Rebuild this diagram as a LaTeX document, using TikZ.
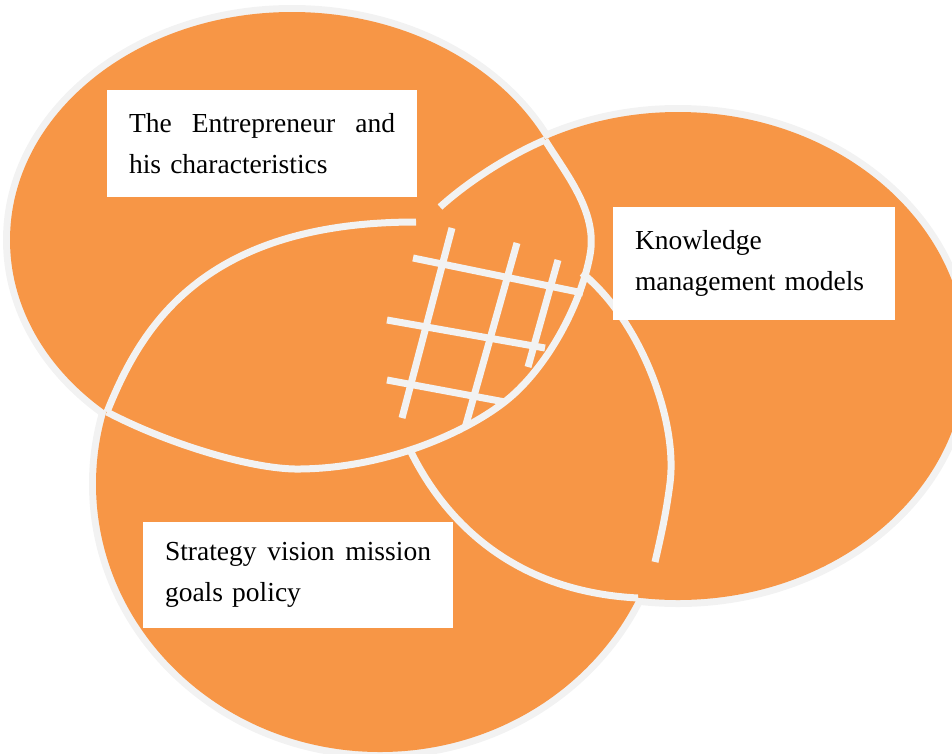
\documentclass[tikz,border=0pt]{standalone}
\usepackage{fontspec}
\setmainfont{Liberation Serif}
\definecolor{vennorange}{RGB}{247,150,70}
\definecolor{rimgray}{RGB}{242,242,242}

% the three circles
\def\entreshape{(292,240) ellipse [x radius=282, y radius=228]}
\def\stratshape{(380,484) ellipse [x radius=284, y radius=268]}
\def\knowshape{(678,356) ellipse [x radius=288, y radius=244]}

\tikzset{
  rim/.style={draw=rimgray, line width=7pt, line join=round},
  labelbox/.style={fill=white, inner xsep=22pt, inner ysep=0pt, align=left,
    font=\fontsize{27.5}{41}\selectfont}
}

\begin{document}
\begin{tikzpicture}[x=1pt,y=-1pt]
  \useasboundingbox (0,0) rectangle (952,753);
  \clip (0,0) rectangle (952,753);

  % rims first, the fills then hide their inner halves
  \draw[rim, line width=14pt] \entreshape;
  \draw[rim, line width=14pt] \stratshape;
  \draw[rim, line width=14pt] \knowshape;
  \fill[vennorange] \entreshape;
  \fill[vennorange] \stratshape;
  \fill[vennorange] \knowshape;

  % where the rims cross
  \coordinate (ek) at (545,140);
  \coordinate (es) at (107,412);
  \coordinate (sk) at (638,598);

  % inner edges
  \draw[rim] (ek) .. controls (566,174) and (598,212) .. (590,255)
                  .. controls (582,300) and (550,365) .. (507,400)
                  .. controls (470,430) and (390,468) .. (300,469)
                  .. controls (255,470) and (170,445) .. (es);
  \draw[rim] (es) .. controls (140,330) and (200,222) .. (416,222);
  \draw[rim] (582,273) .. controls (640,320) and (678,420) .. (670,483)
                       .. controls (666,515) and (660,540) .. (655,562);
  \draw[rim] (ek) .. controls (510,155) and (470,180) .. (440,207);
  \draw[rim] (sk) .. controls (520,592) and (448,528) .. (410,450);

  % the net in the middle
  \foreach \xa/\ya/\xb/\yb in {413/258/583/293, 387/320/545/348, 387/380/505/402,
                               452/228/402/418, 517/243/465/428, 558/260/528/367}
    \draw[rim] (\xa,\ya) -- (\xb,\yb);

  % labels
  \node[labelbox, minimum width=310pt, minimum height=107pt, text width=266pt] (entre) at (262,143.5)
    {The\hfill Entrepreneur\hfill and\\his characteristics};
  \node[labelbox, minimum width=282pt, minimum height=113pt, text width=238pt] (know) at (754,263.5)
    {Knowledge\\management models};
  \node[labelbox, minimum width=310pt, minimum height=106pt, text width=266pt] (strat) at (298,575)
    {Strategy\hfill vision\hfill mission\\goals policy};
\end{tikzpicture}
\end{document}
